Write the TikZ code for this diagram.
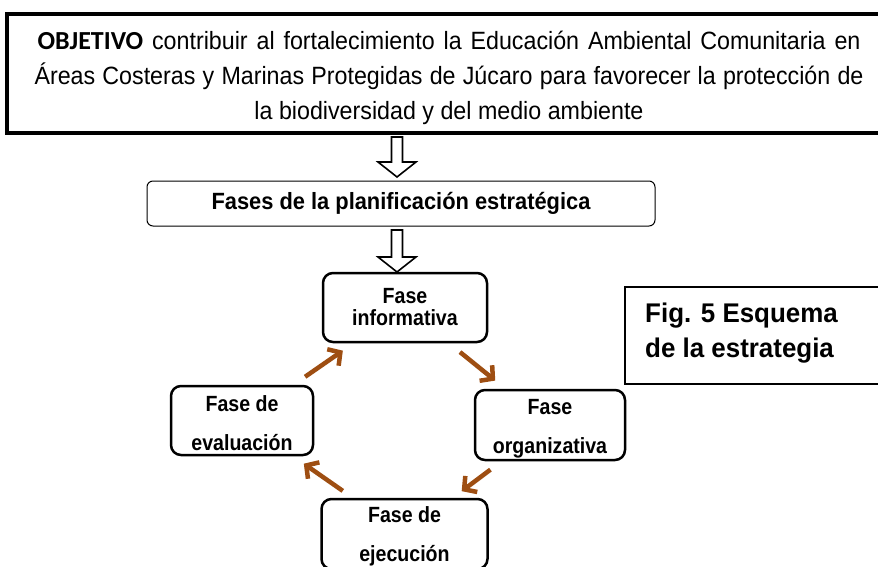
\documentclass[tikz,border=0pt]{standalone}
\usepackage{fontspec}
\setmainfont{Liberation Sans}
\newfontfamily\narrowfont[FakeStretch=0.93,WordSpace=1.2]{Liberation Sans}
\newfontfamily\objfont{Carlito}
\newfontfamily\phasefont[FakeStretch=0.89]{Liberation Sans}
\newfontfamily\planfont[FakeStretch=0.93]{Liberation Sans}
\newfontfamily\figfont[FakeStretch=0.96]{Liberation Sans}
\usetikzlibrary{arrows.meta}
\definecolor{arrbrown}{RGB}{158,78,18}
\tikzset{
  phasebox/.style={draw, line width=2.5pt, rounded corners=10pt, inner sep=0pt},
  phasetext/.style={align=center, inner sep=0pt,
    font=\phasefont\bfseries\fontsize{22}{39}\selectfont},
  cyclearrow/.style={draw=arrbrown, line width=4.5pt,
    -{Straight Barb[length=9pt,width=20pt,line width=4.5pt]}},
  hollowarrow/.style={draw, line width=1.6pt, fill=white}
}
\begin{document}
\begin{tikzpicture}[x=1pt,y=-1pt]
\useasboundingbox (0,0) rectangle (878,567);
\clip (0,0) rectangle (878,567);
% top objective box
\node[draw, line width=3.5pt, minimum width=878pt, minimum height=119pt, inner sep=0pt]
  (obj) at (446,73.5) {};
\node[align=center, inner sep=0pt, font=\narrowfont\fontsize{25}{35}\selectfont]
  (objtxt) at (449,78)
  {\makebox[823pt][s]{{\objfont\bfseries\fontsize{26}{35}\selectfont OBJETIVO} contribuir al fortalecimiento la Educación Ambiental Comunitaria en}\\
   \makebox[829pt][s]{Áreas Costeras y Marinas Protegidas de Júcaro para favorecer la protección de}\\
   la biodiversidad y del medio ambiente};
% planning box
\node[draw, line width=1pt, rounded corners=6pt, minimum width=508pt, minimum height=45pt,
  inner sep=0pt, font=\planfont\bfseries\fontsize{23.5}{26}\selectfont] (plan) at (401,203.5)
  {Fases de la planificación estratégica};
% phases
\node[phasebox, minimum width=164pt, minimum height=69pt] (inf) at (405,307.5) {};
\node[phasetext, font=\phasefont\bfseries\fontsize{22}{22}\selectfont] (inftxt) at (inf.center)
  {Fase\\informativa};
\node[phasebox, minimum width=142pt, minimum height=69pt] (eva) at (242,420.5) {};
\node[phasetext] (evatxt) at ([yshift=-3pt]eva.center) {Fase de\\evaluación};
\node[phasebox, minimum width=150pt, minimum height=70pt] (org) at (550,425) {};
\node[phasetext] (orgtxt) at ([yshift=-3.5pt]org.center) {Fase\\organizativa};
\node[phasebox, minimum width=166pt, minimum height=70pt] (eje) at (404.5,534) {};
\node[phasetext] (ejetxt) at ([yshift=-2pt]eje.center) {Fase de\\ejecución};
% figure caption box
\node[draw, line width=1.5pt, minimum width=270pt, minimum height=97pt, anchor=north west,
  inner sep=0pt] (figbox) at (624,286) {};
\node[anchor=west, align=left, font=\figfont\bfseries\fontsize{27}{35}\selectfont, inner sep=0pt]
  (figtxt) at (645,333) {Fig. 5 Esquema\\de la estrategia};
% hollow arrows
\coordinate (a1) at (397,137);
\coordinate (a2) at (397,230);
\draw[hollowarrow] (a1) ++(-5.5,0) -- ++(0,25) -- ++(-13.5,0) -- ++(19,15) -- ++(19,-15)
  -- ++(-13.5,0) -- ++(0,-25) -- cycle;
\draw[hollowarrow] (a2) ++(-5.5,0) -- ++(0,27) -- ++(-13.5,0) -- ++(19,15) -- ++(19,-15)
  -- ++(-13.5,0) -- ++(0,-27) -- cycle;
% cycle arrows
\draw[cyclearrow, shorten <=14pt, shorten >=13pt] (eva) -- (inf);
\draw[cyclearrow, shorten <=14pt, shorten >=13pt] (inf) -- (org);
\draw[cyclearrow, shorten <=14pt, shorten >=11pt] (org) -- (eje);
\draw[cyclearrow, shorten <=12pt, shorten >=13pt] (eje) -- (eva);
\end{tikzpicture}
\end{document}
